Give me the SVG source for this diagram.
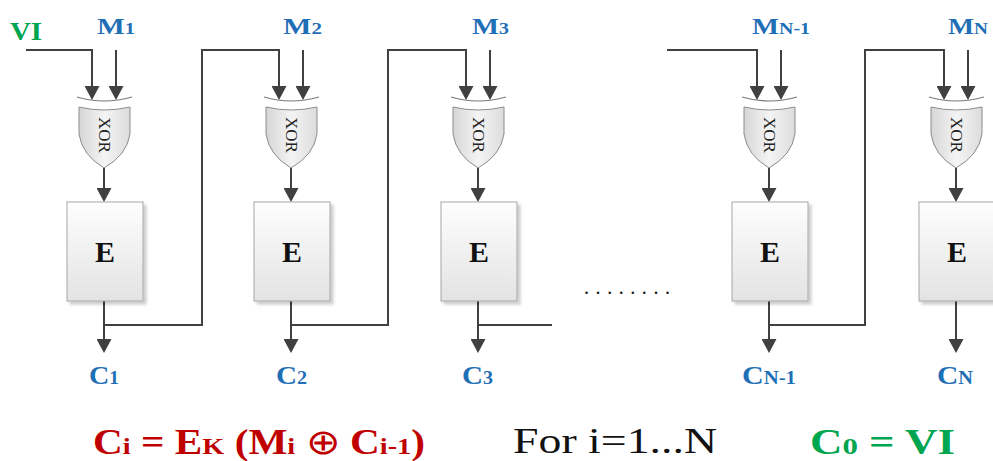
<svg xmlns="http://www.w3.org/2000/svg" width="993" height="461" viewBox="0 0 993 461">
<style>
.ln{fill:none;stroke:#404040;stroke-width:2}
.arr{marker-end:url(#ah)}
.box{fill:url(#gE);stroke:#a6a6a6;stroke-width:1;filter:url(#sh)}
.xb{fill:url(#gX);stroke:#8c8c8c;stroke-width:1}
.xa{fill:none;stroke:#7a7a7a;stroke-width:1.2}
.xt{font-family:"Liberation Serif","Times New Roman",serif;font-size:17px;fill:#222;text-anchor:middle}
.et{font-family:"Liberation Serif","Times New Roman",serif;font-weight:bold;font-size:30px;fill:#111;text-anchor:middle}
.lb{font-family:"Liberation Serif","Times New Roman",serif;font-weight:bold;fill:#1F6FB6}
.gr{font-family:"Liberation Serif","Times New Roman",serif;font-weight:bold;fill:#00A550}
.rd{font-family:"Liberation Serif","Times New Roman",serif;font-weight:bold;fill:#C00000}
.bk{font-family:"Liberation Serif","Times New Roman",serif;fill:#111}
</style>
<defs>
<marker id="ah" markerUnits="userSpaceOnUse" viewBox="0 0 14 15" markerWidth="14" markerHeight="15" refX="11" refY="7.5" orient="auto">
<path d="M0,0 L14,7.5 L0,15 Z" fill="#404040"/>
</marker>
<linearGradient id="gE" x1="0" y1="0" x2="0" y2="1">
<stop offset="0" stop-color="#fefefe"/>
<stop offset="1" stop-color="#e3e3e3"/>
</linearGradient>
<linearGradient id="gX" x1="0" y1="0" x2="1" y2="0">
<stop offset="0" stop-color="#d6d6d6"/>
<stop offset="0.5" stop-color="#f4f4f4"/>
<stop offset="1" stop-color="#dcdcdc"/>
</linearGradient>
<filter id="sh" x="-10%" y="-10%" width="130%" height="130%">
<feDropShadow dx="3" dy="3" stdDeviation="1.5" flood-color="#000" flood-opacity="0.2"/>
</filter>
</defs>

<g id="connectors">
<path class="ln arr" d="M26,50 H92 V97"/>
<path class="ln arr" d="M116,50 V97"/>
<path class="ln arr" d="M303,50 V97"/>
<path class="ln arr" d="M490,50 V97"/>
<path class="ln arr" d="M781,50 V97"/>
<path class="ln arr" d="M968,50 V97"/>
<path class="ln arr" d="M104,325 H202 V50 H279 V97"/>
<path class="ln arr" d="M291,325 H388 V50 H466 V97"/>
<path class="ln" d="M478,325 H552"/>
<path class="ln arr" d="M667,50 H757 V97"/>
<path class="ln arr" d="M769,325 H865 V50 H944 V97"/>
<path class="ln arr" d="M104,168 V199"/>
<path class="ln arr" d="M291,168 V199"/>
<path class="ln arr" d="M478,168 V199"/>
<path class="ln arr" d="M769,168 V199"/>
<path class="ln arr" d="M956,168 V199"/>
<path class="ln arr" d="M104,301 V350"/>
<path class="ln arr" d="M291,301 V350"/>
<path class="ln arr" d="M478,301 V350"/>
<path class="ln arr" d="M769,301 V350"/>
<path class="ln arr" d="M956,301 V350"/>
</g>

<g id="block1">
<g id="xor1" transform="translate(104,0)">
<path class="xa" d="M-27,97 Q0,105 28,97"/>
<path class="xb" d="M-25,107 Q0,113 26,107 L26,134 Q23,155 0,168 Q-22,155 -25,134 Z"/>
<text class="xt" transform="translate(-5,135) rotate(90)">XOR</text>
</g>
<g id="e1"><rect class="box" x="67" y="202" width="76" height="99"/><text class="et" x="105" y="262">E</text></g>
</g>
<g id="block2">
<g id="xor2" transform="translate(291,0)">
<path class="xa" d="M-27,97 Q0,105 28,97"/>
<path class="xb" d="M-25,107 Q0,113 26,107 L26,134 Q23,155 0,168 Q-22,155 -25,134 Z"/>
<text class="xt" transform="translate(-5,135) rotate(90)">XOR</text>
</g>
<g id="e2"><rect class="box" x="254" y="202" width="76" height="99"/><text class="et" x="292" y="262">E</text></g>
</g>
<g id="block3">
<g id="xor3" transform="translate(478,0)">
<path class="xa" d="M-27,97 Q0,105 28,97"/>
<path class="xb" d="M-25,107 Q0,113 26,107 L26,134 Q23,155 0,168 Q-22,155 -25,134 Z"/>
<text class="xt" transform="translate(-5,135) rotate(90)">XOR</text>
</g>
<g id="e3"><rect class="box" x="441" y="202" width="76" height="99"/><text class="et" x="479" y="262">E</text></g>
</g>
<g id="blockN1">
<g id="xorN1" transform="translate(769,0)">
<path class="xa" d="M-27,97 Q0,105 28,97"/>
<path class="xb" d="M-25,107 Q0,113 26,107 L26,134 Q23,155 0,168 Q-22,155 -25,134 Z"/>
<text class="xt" transform="translate(-5,135) rotate(90)">XOR</text>
</g>
<g id="eN1"><rect class="box" x="732" y="202" width="76" height="99"/><text class="et" x="770" y="262">E</text></g>
</g>
<g id="blockN">
<g id="xorN" transform="translate(956,0)">
<path class="xa" d="M-27,97 Q0,105 28,97"/>
<path class="xb" d="M-25,107 Q0,113 26,107 L26,134 Q23,155 0,168 Q-22,155 -25,134 Z"/>
<text class="xt" transform="translate(-5,135) rotate(90)">XOR</text>
</g>
<g id="eN"><rect class="box" x="919" y="202" width="76" height="99"/><text class="et" x="957" y="262">E</text></g>
</g>

<g id="labels">
<text class="gr" x="10" y="40" font-size="25" textLength="32" lengthAdjust="spacingAndGlyphs">VI</text>
<text class="lb" x="97" y="34" font-size="23" textLength="38" lengthAdjust="spacingAndGlyphs">M<tspan font-size="16">1</tspan></text>
<text class="lb" x="283" y="34" font-size="23" textLength="39" lengthAdjust="spacingAndGlyphs">M<tspan font-size="16">2</tspan></text>
<text class="lb" x="472" y="34" font-size="23" textLength="37" lengthAdjust="spacingAndGlyphs">M<tspan font-size="16">3</tspan></text>
<text class="lb" x="752" y="34" font-size="23" textLength="58" lengthAdjust="spacingAndGlyphs">M<tspan font-size="16">N-1</tspan></text>
<text class="lb" x="948" y="34" font-size="23" textLength="40" lengthAdjust="spacingAndGlyphs">M<tspan font-size="16">N</tspan></text>
<text class="lb" x="89" y="384" font-size="26" textLength="30" lengthAdjust="spacingAndGlyphs">C<tspan font-size="18">1</tspan></text>
<text class="lb" x="276" y="384" font-size="26" textLength="31" lengthAdjust="spacingAndGlyphs">C<tspan font-size="18">2</tspan></text>
<text class="lb" x="462" y="384" font-size="26" textLength="31" lengthAdjust="spacingAndGlyphs">C<tspan font-size="18">3</tspan></text>
<text class="lb" x="742" y="384" font-size="26" textLength="54" lengthAdjust="spacingAndGlyphs">C<tspan font-size="18">N-1</tspan></text>
<text class="lb" x="937" y="384" font-size="26" textLength="36" lengthAdjust="spacingAndGlyphs">C<tspan font-size="18">N</tspan></text>
<text class="bk" x="584" y="294" font-size="20" fill="#333" textLength="86" lengthAdjust="spacing">........</text>
<text class="rd" x="93" y="454" font-size="35" textLength="332" lengthAdjust="spacingAndGlyphs">C<tspan font-size="24">i</tspan> = E<tspan font-size="24">K</tspan> (M<tspan font-size="24">i</tspan> <tspan font-weight="normal">⊕</tspan> C<tspan font-size="24">i-1</tspan>)</text>
<text class="bk" x="513" y="453" font-size="36" textLength="204" lengthAdjust="spacingAndGlyphs">For i=1...N</text>
<text class="gr" x="810" y="454" font-size="35" textLength="145" lengthAdjust="spacingAndGlyphs">C<tspan font-size="24">0</tspan> = VI</text>
</g>
</svg>
